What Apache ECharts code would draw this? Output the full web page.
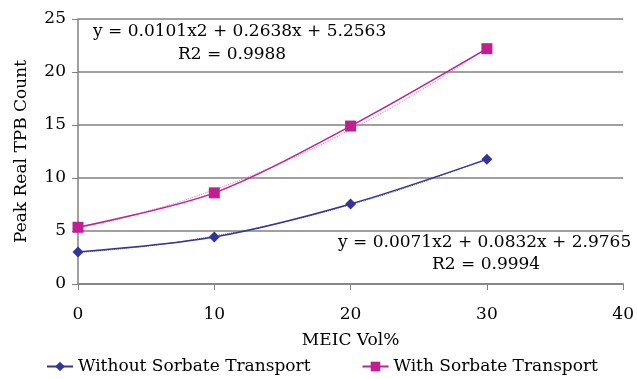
<!DOCTYPE html>
<html>
<head>
<meta charset="utf-8">
<script src="https://cdn.jsdelivr.net/npm/echarts@6/dist/echarts.min.js"></script>
<style>
  html, body { margin: 0; padding: 0; background: #fff; }
  #chart { width: 637px; height: 379px; }
</style>
</head>
<body>
<div id="chart"></div>
<script>
// measured points (MEIC Vol% vs peak count)
const xVals = [0, 10, 20, 30]
const withoutSorbate = [3.02, 4.43, 7.55, 11.76]
const withSorbate = [5.35, 8.6, 14.9, 22.2]

// polynomial trendlines
const trendX = [0, 5, 10, 15, 20, 25, 30]
const trendWithout = [2.98, 3.57, 4.53, 5.82, 7.49, 9.49, 11.83]
const trendWith = [5.26, 6.83, 8.9, 11.49, 14.57, 18.16, 22.26]

const eqWith = ['y = 0.0101x2 + 0.2638x + 5.2563', 'R2 = 0.9988']
const eqWithout = ['y = 0.0071x2 + 0.0832x + 2.9765', 'R2 = 0.9994']

const BLUE = '#333399'
const PINK = '#C21E92'
const FONT = '"DejaVu Serif", "Liberation Serif", serif'

const pairs = (xs, ys) => xs.map((x, i) => [x, ys[i]])

const chart = echarts.init(document.getElementById('chart'))
chart.setOption({
  animation: false,
  textStyle: { fontFamily: FONT, color: '#000' },
  grid: { left: 78, right: 12, top: 19, bottom: 95 },
  xAxis: {
    type: 'value',
    min: 0, max: 40, interval: 10,
    name: 'MEIC Vol%',
    nameLocation: 'middle',
    nameGap: 48,
    nameTextStyle: { fontSize: 17, fontFamily: FONT, color: '#000' },
    axisLine: { show: true, lineStyle: { color: '#808080', width: 1.5 } },
    axisTick: { show: true, length: 6, lineStyle: { color: '#808080' } },
    axisLabel: { fontSize: 17, margin: 22, color: '#000' },
    splitLine: { show: false },
  },
  yAxis: {
    type: 'value',
    min: 0, max: 25, interval: 5,
    name: 'Peak Real TPB Count',
    nameLocation: 'middle',
    nameGap: 48,
    nameRotate: 90,
    nameTextStyle: { fontSize: 17, fontFamily: FONT, color: '#000' },
    axisLine: { show: true, lineStyle: { color: '#808080', width: 1.5 } },
    axisTick: { show: true, length: 6, lineStyle: { color: '#808080' } },
    axisLabel: { fontSize: 17, margin: 12, color: '#000' },
    splitLine: { show: true, lineStyle: { color: '#808080', width: 1.5 } },
  },
  legend: {
    bottom: -1,
    left: 41,
    itemGap: 51,
    itemWidth: 26,
    itemHeight: 12,
    textStyle: { fontSize: 17, fontFamily: FONT, color: '#000' },
    data: ['Without Sorbate Transport', 'With Sorbate Transport'],
  },
  graphic: [
    { type: 'text', left: 93, top: 23,
      style: { text: eqWith[0], font: '17px ' + FONT, fill: '#000' } },
    { type: 'text', left: 178, top: 46,
      style: { text: eqWith[1], font: '17px ' + FONT, fill: '#000' } },
    { type: 'text', left: 338, top: 234,
      style: { text: eqWithout[0], font: '17px ' + FONT, fill: '#000' } },
    { type: 'text', left: 432, top: 256,
      style: { text: eqWithout[1], font: '17px ' + FONT, fill: '#000' } },
  ],
  series: [
    {
      name: 'trend without', type: 'line', data: pairs(trendX, trendWithout),
      smooth: true, symbol: 'none', silent: true,
      lineStyle: { color: '#5555aa', width: 1, type: 'dotted' },
    },
    {
      name: 'trend with', type: 'line', data: pairs(trendX, trendWith),
      smooth: true, symbol: 'none', silent: true,
      lineStyle: { color: '#e070c0', width: 1, type: 'dotted' },
    },
    {
      name: 'Without Sorbate Transport', type: 'line', data: pairs(xVals, withoutSorbate),
      smooth: 0.3, symbol: 'diamond', symbolSize: 11,
      lineStyle: { color: BLUE, width: 1.5 }, itemStyle: { color: BLUE },
    },
    {
      name: 'With Sorbate Transport', type: 'line', data: pairs(xVals, withSorbate),
      smooth: 0.3, symbol: 'rect', symbolSize: 11,
      lineStyle: { color: PINK, width: 1.5 }, itemStyle: { color: PINK },
    },
  ],
})
</script>
</body>
</html>
